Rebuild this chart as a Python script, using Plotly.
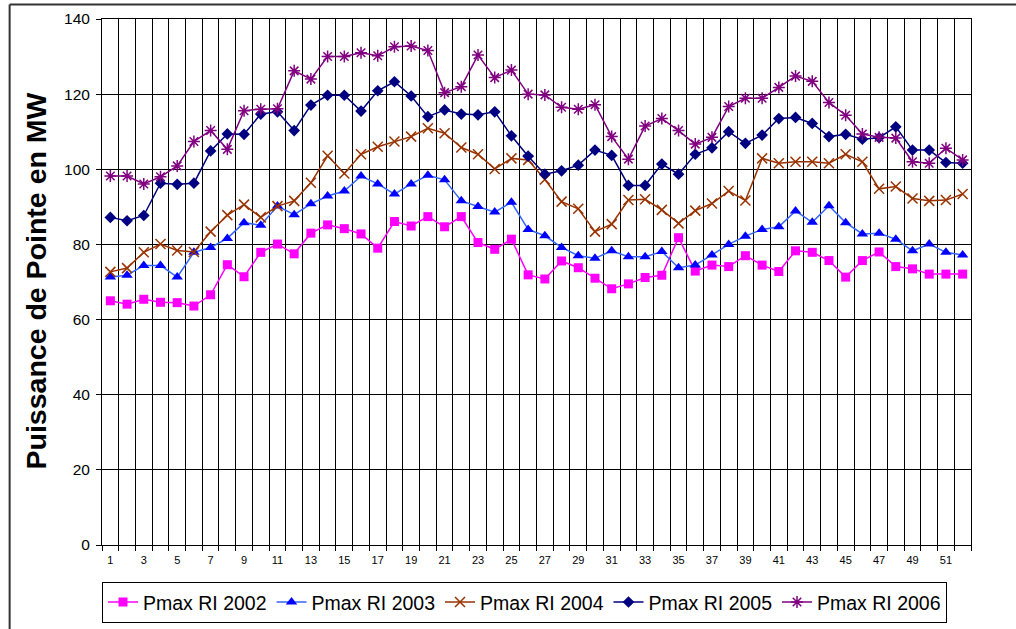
import plotly.graph_objects as go

weeks = list(range(1, 53))

pmax_2002 = [65.0, 64.1, 65.4, 64.6, 64.5, 63.6, 66.6, 74.6, 71.4, 77.9,
             80.1, 77.5, 83.0, 85.2, 84.2, 82.8, 79.0, 86.1, 84.9, 87.4,
             84.7, 87.4, 80.5, 78.7, 81.4, 71.9, 70.8, 75.6, 73.8, 71.0,
             68.2, 69.5, 71.2, 71.8, 81.8, 72.9, 74.5, 74.1, 77.0, 74.5,
             72.8, 78.3, 77.9, 75.7, 71.3, 75.7, 78.0, 74.1, 73.5, 72.1,
             72.1, 72.1]
pmax_2003 = [71.3, 71.8, 74.4, 74.4, 71.3, 77.9, 79.2, 81.6, 85.8, 85.1,
             90.2, 87.9, 90.8, 92.9, 94.2, 98.2, 96.1, 93.4, 96.1, 98.4,
             97.2, 91.6, 90.1, 88.6, 91.2, 84.0, 82.3, 79.2, 77.0, 76.3,
             78.3, 76.7, 76.7, 78.1, 73.8, 74.5, 77.2, 80.0, 82.2, 84.0,
             84.7, 88.9, 85.9, 90.3, 85.8, 82.8, 83.0, 81.4, 78.3, 80.1,
             77.9, 77.2]
pmax_2004 = [72.7, 73.7, 77.9, 80.1, 78.4, 78.0, 83.4, 87.8, 90.6, 87.2,
             90.2, 91.6, 96.4, 103.6, 98.9, 104.0, 106.0, 107.4, 108.7, 110.9,
             109.6, 105.8, 104.0, 100.1, 102.9, 102.5, 97.3, 91.4, 89.5, 83.4,
             85.4, 91.8, 92.0, 89.2, 85.6, 89.0, 90.9, 94.2, 91.7, 102.9,
             101.6, 102.0, 102.0, 101.6, 104.0, 102.0, 94.8, 95.4, 92.2, 91.6,
             91.8, 93.4]
pmax_2005 = [87.2, 86.3, 87.7, 96.3, 96.0, 96.3, 104.9, 109.4, 109.3, 114.7,
             115.3, 110.3, 117.1, 119.7, 119.7, 115.5, 120.9, 123.3, 119.5, 114.0,
             115.8, 114.7, 114.5, 115.3, 108.9, 103.5, 98.7, 99.6, 101.1, 105.1,
             103.7, 95.7, 95.7, 101.4, 98.7, 104.0, 105.7, 110.0, 106.9, 109.1,
             113.5, 113.8, 112.2, 108.7, 109.3, 108.0, 108.4, 111.3, 105.1, 105.1,
             101.8, 101.6]
pmax_2006 = [98.2, 98.2, 96.1, 98.0, 100.9, 107.4, 110.3, 105.3, 115.6, 116.0,
             116.1, 126.2, 124.0, 130.0, 130.0, 131.0, 130.2, 132.6, 132.8, 131.6,
             120.4, 122.0, 130.4, 124.4, 126.4, 120.0, 119.8, 116.5, 116.0, 117.2,
             108.7, 102.7, 111.5, 113.5, 110.3, 106.7, 108.5, 116.7, 118.9, 118.9,
             121.8, 124.8, 123.4, 117.8, 114.4, 109.4, 108.5, 108.3, 102.0, 101.6,
             105.6, 102.5]

series_names = ["Pmax RI 2002", "Pmax RI 2003", "Pmax RI 2004", "Pmax RI 2005", "Pmax RI 2006"]
x_tick_vals = list(range(1, 53, 2))
x_tick_text = [str(v) for v in x_tick_vals]
y_title = "Puissance de Pointe en MW"

FONT = "Arial, 'Liberation Sans', sans-serif"

styles = [
    dict(line=dict(color="#FF00FF", width=1.5),
         marker=dict(symbol="square", size=9, color="#FF00FF")),
    dict(line=dict(color="#3366FF", width=1.5),
         marker=dict(symbol="triangle-up", size=10, color="#0000FF")),
    dict(line=dict(color="#993300", width=1.5),
         marker=dict(symbol="x-thin-open", size=10, color="#993300",
                     line=dict(color="#993300", width=1.5))),
    dict(line=dict(color="#000080", width=1.5),
         marker=dict(symbol="diamond", size=9, color="#000080")),
    dict(line=dict(color="#800080", width=1.5),
         marker=dict(symbol="asterisk-open", size=10, color="#800080",
                     line=dict(color="#800080", width=1.5))),
]

all_series = [pmax_2002, pmax_2003, pmax_2004, pmax_2005, pmax_2006]

fig = go.Figure()
for name, vals, st in zip(series_names, all_series, styles):
    fig.add_trace(go.Scatter(x=weeks, y=vals, name=name, mode="lines+markers",
                             line=st["line"], marker=st["marker"]))

fig.update_layout(
    width=1016, height=629,
    margin=dict(l=101.5, r=44.5, t=19, b=84, autoexpand=False),
    paper_bgcolor="white", plot_bgcolor="white",
    font=dict(family=FONT, color="black"),
    showlegend=True,
    legend=dict(orientation="h", x=0, xanchor="left", y=-0.07, yanchor="top",
                bordercolor="black", borderwidth=1, bgcolor="white",
                font=dict(size=19.5, family=FONT), entrywidth=123.5,
                itemwidth=30, tracegroupgap=0),
    xaxis=dict(range=[0.5, 52.5], tickmode="array", tickvals=x_tick_vals,
               ticktext=x_tick_text, ticks="", showgrid=False,
               tickfont=dict(size=11, family=FONT), ticklabelstandoff=5,
               showline=True, linecolor="black", linewidth=1, mirror=True,
               zeroline=False,
               minor=dict(tick0=0.5, dtick=1, showgrid=True, gridcolor="black",
                          gridwidth=1, ticks="outside", ticklen=5,
                          tickcolor="black")),
    yaxis=dict(range=[0, 140], dtick=20, tick0=0, showgrid=True,
               gridcolor="black", gridwidth=1, ticks="outside", ticklen=5,
               tickcolor="black", tickfont=dict(size=15.5, family=FONT),
               ticklabelstandoff=3,
               showline=True, linecolor="black", linewidth=1, mirror=True,
               zeroline=False),
    annotations=[dict(text="<b>" + y_title + "</b>", xref="paper", yref="paper",
                      x=-0.0765, y=0.502, xanchor="center", yanchor="middle",
                      textangle=-90, showarrow=False,
                      font=dict(size=28.5, family=FONT, color="black"),
                      )],
    shapes=[
        dict(type="line", xref="paper", yref="paper", x0=-0.1063, x1=-0.1063,
             y0=-0.3, y1=1.0275, line=dict(color="#333333", width=2)),
        dict(type="line", xref="paper", yref="paper", x0=-0.1063, x1=1.2,
             y0=1.0275, y1=1.0275, line=dict(color="#333333", width=2)),
    ],
)

fig.write_html("out.html", config={"displayModeBar": False},
               post_script="document.body.style.margin='0px';")
